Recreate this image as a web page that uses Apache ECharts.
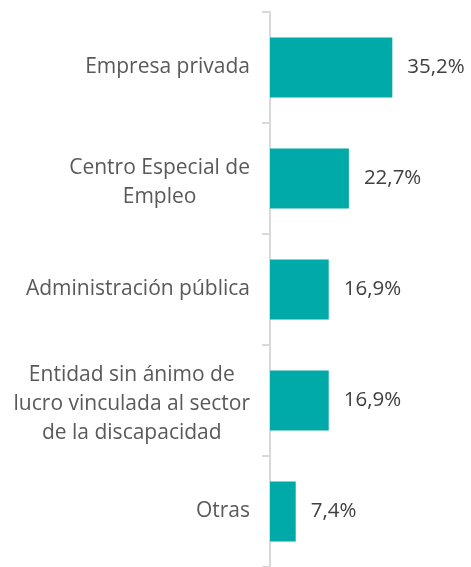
<!DOCTYPE html>
<html>
<head>
<meta charset="utf-8">
<script src="https://cdn.jsdelivr.net/npm/echarts@6/dist/echarts.min.js"></script>
<style>
    html, body { margin: 0; padding: 0; background: #fff; }
    #chart { width: 471px; height: 567px; }
</style>
</head>
<body>
<div id="chart"></div>
<script>
var categories = [
    'Empresa privada',
    'Centro Especial de\nEmpleo',
    'Administración pública',
    'Entidad sin ánimo de\nlucro vinculada al sector\nde la discapacidad',
    'Otras'
];
var values = [35.2, 22.7, 16.9, 16.9, 7.4];

(function () {
    var chart = echarts.init(document.getElementById('chart'));
    // wrapped labels sit a little lower in the original
    var yData = categories.map(function (c) {
        if (c.indexOf('\n') < 0) {
            return c;
        }
        return { value: c, textStyle: { padding: [8, 0, 0, 0] } };
    });
    var option = {
        animation: false,
        grid: {
            left: 270,
            top: 12,
            width: 139,
            height: 562
        },
        xAxis: {
            type: 'value',
            show: false,
            min: 0,
            max: 40
        },
        yAxis: {
            type: 'category',
            inverse: true,
            data: yData,
            axisLine: {
                show: true,
                lineStyle: { color: '#d9d9d9', width: 2 }
            },
            axisTick: {
                show: true,
                length: 8,
                lineStyle: { color: '#d9d9d9', width: 2 }
            },
            axisLabel: {
                margin: 20,
                align: 'right',
                formatter: function (v) {
                    // lines centred on each other, block right-aligned
                    return v.split('\n').map(function (l) {
                        return '{c|' + l + '}';
                    }).join('\n');
                },
                rich: {
                    c: {
                        align: 'center',
                        color: '#595959',
                        fontFamily: 'Open Sans',
                        fontSize: 21,
                        lineHeight: 29
                    }
                }
            }
        },
        series: [{
            type: 'bar',
            data: values,
            barCategoryGap: '46%',
            itemStyle: { color: '#00aaa8' },
            label: {
                show: true,
                position: 'right',
                distance: 15,
                color: '#404040',
                fontFamily: 'Open Sans',
                fontSize: 20.5,
                formatter: function (p) {
                    return p.value.toFixed(1).replace('.', ',') + '%';
                }
            }
        }]
    };
    chart.setOption(option);
})();
</script>
</body>
</html>
